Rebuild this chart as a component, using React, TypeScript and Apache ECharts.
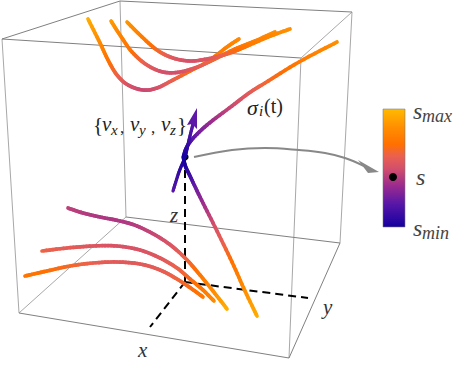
import React, { useEffect, useRef } from "react";
import * as echarts from "echarts";

type P = number[];

// Box corners on the page scale [x, y]
const FTL = [2, 39], BTL = [120, 1], BTR = [352, 12], FTR = [301, 58];
const FBL = [19, 313], BBL = [126, 217], BBR = [340, 243], FBR = [289, 358];
const boxDark: P[][] = [[FTL, BTL], [BTL, BTR], [FTR, FTL], [FBL, FBR], [FBR, BBR], [BBL, BBR]];
const boxLight: P[][] = [[BTR, FTR], [BBL, FBL], [FTL, FBL], [BTL, BBL], [BTR, BBR], [FTR, FBR]];

// Trajectories: [x, y, s]
const curveA: P[] = [[88, 19, 0.97], [100, 43, 0.82], [108, 60, 0.72], [117, 75, 0.62], [128, 85, 0.52], [143, 90, 0.47], [157, 88, 0.5], [173, 80, 0.6], [190, 71, 0.67], [207, 62, 0.72], [227, 47, 0.78], [239, 39, 0.82]];
const curveB: P[] = [[111, 21, 0.9], [120, 35, 0.8], [132, 52, 0.7], [147, 65, 0.58], [163, 72, 0.5], [180, 72, 0.5], [200, 66, 0.58], [217, 58, 0.65], [235, 49, 0.72], [255, 41, 0.78], [275, 32, 0.84]];
const curveC: P[] = [[127, 22, 0.88], [140, 35, 0.78], [157, 50, 0.66], [173, 58, 0.55], [190, 61, 0.5], [207, 59, 0.53], [227, 54, 0.62], [245, 47, 0.72], [268, 37, 0.8], [290, 29, 0.85]];
const curveD: P[] = [[68, 208, 0.44], [83, 213, 0.42], [100, 217, 0.4], [120, 221, 0.4], [137, 226, 0.42], [157, 236, 0.47], [173, 247, 0.54], [187, 260, 0.62], [200, 275, 0.72], [213, 291, 0.82], [227, 309, 0.96]];
const curveE: P[] = [[42, 251, 0.62], [67, 248, 0.58], [93, 246, 0.54], [117, 246, 0.52], [140, 250, 0.52], [160, 258, 0.55], [177, 268, 0.6], [190, 279, 0.66], [203, 290, 0.74], [214, 301, 0.82]];
const curveF: P[] = [[25, 276, 0.73], [47, 271, 0.7], [70, 266, 0.65], [93, 263, 0.6], [117, 262, 0.56], [140, 264, 0.56], [160, 270, 0.58], [177, 279, 0.62], [192, 289, 0.68], [203, 297, 0.74]];
const curveSigma: P[] = [[257, 316, 0.96], [245, 291, 0.85], [232, 262, 0.72], [215, 227, 0.52], [200, 197, 0.32], [190, 176, 0.14], [185, 165, 0.03], [184, 155, 0], [190, 142, 0.15], [207, 125, 0.32], [232, 106, 0.47], [249, 93, 0.56], [265, 83, 0.63], [299, 62, 0.74], [337, 42, 0.84]];
const velocity: P[] = [[173, 191, 0.2], [179, 172, 0.1], [185, 157, 0], [189, 140, 0.12], [193, 124, 0.2]];

// Dashed axes from the point
const zAxisLine: P[] = [[185, 157], [185, 282]];
const xAxisLine: P[] = [[185, 282], [150, 327]];
const yAxisLine: P[] = [[185, 282], [308, 298]];

// Grey connector to the colour bar
const connector: P[] = [[194, 157], [232, 150], [265, 148], [299, 150], [325, 153], [345, 158], [364, 166]];
const connectorHead: P[] = [[358, 160], [379, 172], [368, 173]];
const velocityHead: P[] = [[197, 108], [197, 129], [192, 124], [187, 125]];

// Points
const pointOnCurve: P[] = [[185, 157]];
const pointOnBar: P[] = [[393, 177]];

// Colour scale
const colourStops: [number, string][] = [
  [0, "#1400a0"], [0.2, "#5a17a8"], [0.35, "#9b2b8e"], [0.5, "#d4506a"],
  [0.6, "#ea6050"], [0.7, "#ff7000"], [0.85, "#ff9000"], [1, "#ffbb00"],
];
const colourBarRange: P[] = [[383, 109], [405, 227]];

// Texts
const braceOpen = "{", braceClose = "}", comma = ",";
const v = "v", subX = "x", subY = "y", subZ = "z";
const sigma = "σ", sigmaSub = "i", sigmaArg = "(t)";
const axisNames = ["x", "y", "z"];
const sName = "s", sMax = "max", sMin = "min";

function hex(c: string) {
  return [1, 3, 5].map((i) => parseInt(c.slice(i, i + 2), 16));
}
function colourAt(s: number) {
  const t = Math.max(0, Math.min(1, s));
  for (let i = 1; i < colourStops.length; i++) {
    if (t <= colourStops[i][0]) {
      const [a, ca] = colourStops[i - 1];
      const [b, cb] = colourStops[i];
      const u = (t - a) / (b - a);
      const x = hex(ca), y = hex(cb);
      return `rgb(${x.map((q, k) => Math.round(q + (y[k] - q) * u)).join(",")})`;
    }
  }
  return colourStops[colourStops.length - 1][1];
}

function colouredCurve(points: P[], width: number, z: number) {
  return {
    type: "custom",
    coordinateSystem: "cartesian2d",
    clip: false,
    z,
    data: points,
    encode: { x: 0, y: 1 },
    renderItem: (params: any, api: any) => {
      const i = params.dataIndex;
      if (i >= points.length - 1) return null;
      const c = points.map((p) => api.coord([p[0], p[1]]));
      const p0 = c[Math.max(0, i - 1)], p1 = c[i], p2 = c[i + 1], p3 = c[Math.min(points.length - 1, i + 2)];
      const s1 = points[i][2], s2 = points[i + 1][2];
      const at = (t: number) =>
        [0, 1].map((k) =>
          0.5 * (2 * p1[k] + (p2[k] - p0[k]) * t + (2 * p0[k] - 5 * p1[k] + 4 * p2[k] - p3[k]) * t * t + (3 * p1[k] - p0[k] - 3 * p2[k] + p3[k]) * t * t * t)
        );
      const steps = 8;
      const children = [];
      for (let j = 0; j < steps; j++) {
        const a = at(j / steps), b = at((j + 1) / steps);
        children.push({
          type: "line",
          shape: { x1: a[0], y1: a[1], x2: b[0], y2: b[1] },
          style: { stroke: colourAt(s1 + ((s2 - s1) * (j + 0.5)) / steps), lineWidth: width, lineCap: "round" },
        });
      }
      return { type: "group", children };
    },
  };
}

function plainLine(points: P[], color: string, width: number, z: number, dash?: number[], smooth = 0) {
  return {
    type: "line",
    data: points,
    showSymbol: false,
    symbol: "none",
    silent: true,
    clip: false,
    z,
    smooth,
    lineStyle: { color, width, type: dash || "solid", cap: "butt" },
  };
}

function filledPolygon(points: P[], color: string, z: number) {
  return {
    type: "custom",
    coordinateSystem: "cartesian2d",
    clip: false,
    z,
    data: points,
    encode: { x: 0, y: 1 },
    renderItem: (params: any, api: any) =>
      params.dataIndex === 0
        ? { type: "polygon", shape: { points: points.map((p) => api.coord(p)) }, style: { fill: color } }
        : null,
  };
}

function dot(points: P[], r: number, z: number) {
  return {
    type: "scatter",
    data: points,
    symbolSize: r * 2,
    itemStyle: { color: "#000", opacity: 1 },
    silent: true,
    clip: false,
    z,
  };
}

function colourBar(z: number) {
  return {
    type: "custom",
    coordinateSystem: "cartesian2d",
    clip: false,
    z,
    data: colourBarRange,
    encode: { x: 0, y: 1 },
    renderItem: (params: any, api: any) => {
      if (params.dataIndex !== 0) return null;
      const a = api.coord(colourBarRange[0]), b = api.coord(colourBarRange[1]);
      return {
        type: "rect",
        shape: { x: a[0], y: a[1], width: b[0] - a[0], height: b[1] - a[1] },
        style: {
          fill: new echarts.graphic.LinearGradient(0, 1, 0, 0, colourStops.map(([offset, color]) => ({ offset, color }))),
          stroke: "rgba(120,120,120,0.55)",
          lineWidth: 1,
        },
      };
    },
  };
}

function label(text: string, x: number, y: number, size: number, italic = true, fill = "#222") {
  return {
    type: "text",
    x,
    y,
    z: 20,
    style: {
      text,
      fill,
      font: `${italic ? "italic" : "normal"} ${size}px 'Liberation Serif', 'Times New Roman', serif`,
      align: "left",
      verticalAlign: "middle",
    },
  };
}

export default function App() {
  const ref = useRef<HTMLDivElement>(null);
  useEffect(() => {
    const chart = echarts.init(ref.current!, undefined, { renderer: "svg" });
    chart.setOption({
      animation: false,
      backgroundColor: "#fff",
      grid: { left: 0, right: 0, top: 0, bottom: 0 },
      xAxis: { type: "value", min: 0, max: 464, show: false },
      yAxis: { type: "value", min: 0, max: 368, inverse: true, show: false },
      series: [
        ...boxLight.map((e) => plainLine(e, "#a8a8a8", 1, 1)),
        ...boxDark.map((e) => plainLine(e, "#808080", 1, 1)),
        plainLine(zAxisLine, "#000", 2, 2, [8, 5]),
        plainLine(xAxisLine, "#000", 2, 2, [8, 5]),
        plainLine(yAxisLine, "#000", 2, 2, [8, 5]),
        dot(pointOnCurve, 3.6, 3),
        colouredCurve(curveA, 3.7, 4),
        colouredCurve(curveB, 3.7, 4),
        colouredCurve(curveC, 3.7, 4),
        colouredCurve(curveD, 3.7, 4),
        colouredCurve(curveE, 3.7, 4),
        colouredCurve(curveF, 3.7, 4),
        colouredCurve(curveSigma, 3.7, 5),
        colouredCurve(velocity, 3.2, 6),
        filledPolygon(velocityHead, "#5f17a8", 6),
        plainLine(connector, "#888", 2, 7, undefined, 0.4),
        filledPolygon(connectorHead, "#888", 7),
        colourBar(8),
        dot(pointOnBar, 4, 9),
      ],
      graphic: [
        label(braceOpen, 93, 125, 21, false),
        label(v, 102, 124, 21),
        label(subX, 111, 130, 15),
        label(comma, 120, 127, 17, false),
        label(v, 130, 124, 21),
        label(subY, 139, 130, 15),
        label(comma, 151, 127, 17, false),
        label(v, 161, 124, 21),
        label(subZ, 170, 130, 15),
        label(braceClose, 177, 125, 21, false),
        label(sigma, 247, 107, 22),
        label(sigmaSub, 259, 111, 15),
        label(sigmaArg, 264, 106, 20, false),
        label(axisNames[0], 138, 350, 21, true, "#333"),
        label(axisNames[1], 323, 307, 21, true, "#333"),
        label(axisNames[2], 170, 215, 21, true, "#333"),
        label(sName, 413, 111, 24, true, "#444"),
        label(sMax, 422, 116, 18, true, "#444"),
        label(sName, 416, 177, 24, true, "#444"),
        label(sName, 413, 228, 24, true, "#444"),
        label(sMin, 422, 233, 18, true, "#444"),
      ],
    });
    return () => chart.dispose();
  }, []);
  return <div ref={ref} style={{ position: "absolute", left: 0, top: 0, width: 464, height: 368 }} />;
}
